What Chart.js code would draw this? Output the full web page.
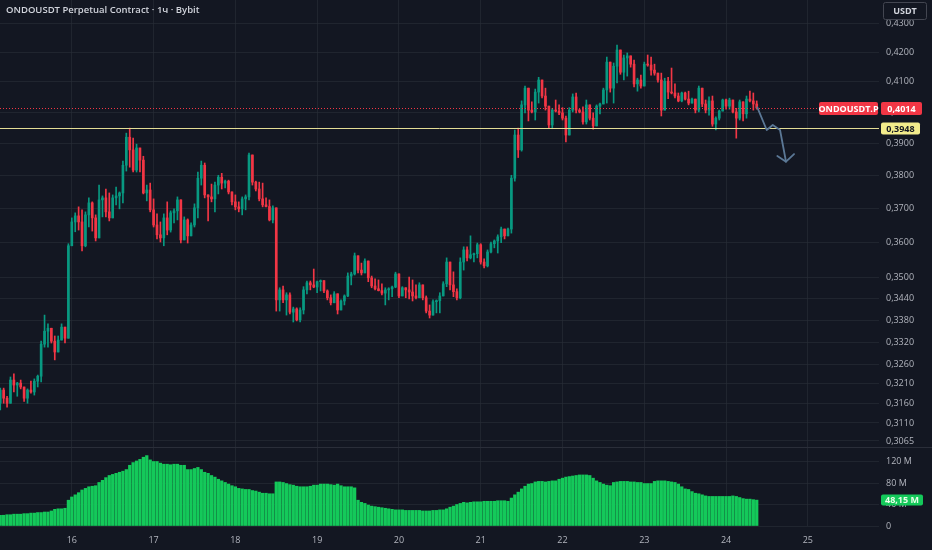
<!DOCTYPE html>
<html><head><meta charset="utf-8">
<script src="https://cdn.jsdelivr.net/npm/chart.js@4.4.1/dist/chart.umd.min.js"></script>
<style>
html,body{margin:0;padding:0;background:#131722;}
#wrap{position:relative;width:932px;height:550px;overflow:hidden;}
canvas{display:block;}
#hdr{position:absolute;left:6px;top:3px;font:600 9.5px "Open Sans";color:#d1d4dc;white-space:nowrap;}
</style></head><body>
<div id="wrap"><canvas id="c" width="932" height="550"></canvas><div id="hdr">ONDOUSDT Perpetual Contract · 1ч · Bybit</div></div>
<script>
// ---- data ----
const firstDay = 15, firstHour = 3;   // first candle: 15th, 03:00, then hourly
const openFirst = 0.3160;
const closes = [
.3194,.3173,.3160,.3220,.3207,.3212,.3202,.3173,.3194,.3189,
.3217,.3230,.3315,.3350,.3358,.3323,.3294,.3326,.3361,.3331,
.3590,.3660,.3678,.3660,.3590,.3681,.3717,.3672,.3613,.3726,
.3732,.3690,.3672,.3732,.3738,.3747,.3832,.3920,.3880,.3817,
.3886,.3848,.3747,.3756,.3696,.3651,.3622,.3613,.3672,.3636,
.3687,.3693,.3726,.3607,.3666,.3619,.3651,.3702,.3792,.3832,
.3741,.3735,.3729,.3771,.3795,.3777,.3783,.3750,.3720,.3705,
.3699,.3729,.3735,.3864,.3780,.3759,.3729,.3711,.3706,.3666,
.3702,.3436,.3464,.3436,.3450,.3402,.3411,.3381,.3408,.3464,
.3484,.3478,.3472,.3487,.3490,.3461,.3442,.3428,.3453,.3408,
.3433,.3447,.3503,.3509,.3561,.3520,.3512,.3546,.3498,.3475,
.3467,.3462,.3455,.3464,.3467,.3472,.3509,.3447,.3470,.3464,
.3458,.3447,.3442,.3478,.3442,.3405,.3394,.3431,.3434,.3447,
.3481,.3543,.3478,.3459,.3442,.3543,.3578,.3555,.3564,.3567,
.3593,.3543,.3532,.3572,.3596,.3604,.3616,.3639,.3619,.3639,
.3792,.3927,.3880,.4024,.4079,.4007,.4001,.4066,.4106,.4053,
.4020,.3959,.4007,.4004,.3998,.3981,.3927,.4007,.4050,.4007,
.4001,.3969,.4024,.3981,.3956,.4020,.4027,.4073,.4166,.4079,
.4152,.4207,.4132,.4180,.4187,.4159,.4093,.4106,.4086,.4159,
.4156,.4139,.4129,.4106,.4007,.4102,.4066,.4063,.4053,.4037,
.4063,.4043,.4030,.4043,.4007,.4079,.4027,.4007,.4037,.3962,
.3981,.4004,.4040,.4020,.4040,.4001,.3981,.4034,.3995,.4043,
.4037,.4027,.4014];
const highs = [
.3199,.3199,.3178,.3228,.3236,.3214,.3220,.3202,.3197,.3217,
.3223,.3233,.3323,.3394,.3370,.3350,.3337,.3337,.3370,.3359,
.3596,.3672,.3687,.3705,.3696,.3690,.3732,.3720,.3681,.3771,
.3738,.3759,.3747,.3741,.3765,.3750,.3845,.3933,.3949,.3917,
.3898,.3883,.3860,.3771,.3777,.3729,.3684,.3660,.3684,.3720,
.3693,.3699,.3735,.3708,.3675,.3669,.3657,.3714,.3811,.3845,
.3839,.3741,.3774,.3780,.3801,.3807,.3786,.3786,.3750,.3741,
.3720,.3735,.3741,.3870,.3829,.3783,.3780,.3777,.3732,.3726,
.3708,.3684,.3470,.3475,.3456,.3456,.3416,.3414,.3414,.3473,
.3489,.3489,.3523,.3489,.3492,.3478,.3464,.3450,.3459,.3445,
.3436,.3450,.3512,.3514,.3569,.3558,.3540,.3552,.3526,.3503,
.3495,.3492,.3481,.3470,.3470,.3475,.3514,.3478,.3473,.3470,
.3500,.3492,.3478,.3484,.3473,.3447,.3422,.3436,.3436,.3456,
.3487,.3555,.3535,.3515,.3467,.3555,.3587,.3587,.3619,.3569,
.3598,.3596,.3552,.3578,.3601,.3607,.3622,.3645,.3636,.3642,
.3801,.3943,.3949,.4037,.4086,.4050,.4034,.4076,.4115,.4095,
.4079,.4013,.4013,.4040,.4024,.4015,.3988,.4015,.4060,.4063,
.4010,.4018,.4040,.4007,.3998,.4024,.4030,.4079,.4183,.4149,
.4163,.4224,.4197,.4190,.4197,.4183,.4173,.4112,.4122,.4166,
.4190,.4183,.4159,.4129,.4129,.4112,.4115,.4146,.4093,.4063,
.4066,.4066,.4069,.4046,.4043,.4086,.4076,.4040,.4050,.4053,
.3985,.4007,.4043,.4043,.4046,.4030,.4013,.4040,.4018,.4053,
.4069,.4063,.4037];
const lows = [
.3143,.3160,.3150,.3173,.3189,.3178,.3197,.3165,.3160,.3186,
.3181,.3202,.3215,.3307,.3307,.3318,.3273,.3296,.3326,.3318,
.3334,.3596,.3631,.3636,.3575,.3587,.3645,.3633,.3604,.3633,
.3675,.3675,.3663,.3675,.3711,.3699,.3717,.3814,.3826,.3811,
.3811,.3811,.3744,.3723,.3690,.3645,.3610,.3601,.3590,.3622,
.3630,.3657,.3666,.3598,.3613,.3598,.3622,.3645,.3672,.3771,
.3732,.3663,.3720,.3690,.3744,.3759,.3762,.3744,.3711,.3696,
.3690,.3681,.3696,.3726,.3771,.3753,.3723,.3705,.3705,.3663,
.3657,.3405,.3405,.3428,.3394,.3397,.3375,.3378,.3375,.3397,
.3453,.3464,.3470,.3456,.3461,.3456,.3436,.3422,.3431,.3397,
.3411,.3422,.3445,.3478,.3506,.3512,.3506,.3512,.3487,.3470,
.3464,.3461,.3450,.3422,.3436,.3445,.3470,.3442,.3450,.3442,
.3439,.3433,.3439,.3456,.3436,.3400,.3386,.3403,.3400,.3400,
.3450,.3473,.3464,.3445,.3436,.3439,.3520,.3546,.3552,.3543,
.3555,.3537,.3526,.3529,.3569,.3584,.3569,.3599,.3610,.3627,
.3627,.3783,.3856,.3876,.3998,.3972,.3998,.3975,.4030,.4047,
.4007,.3947,.3947,.4001,.3992,.3975,.3905,.3960,.4001,.3998,
.3998,.3962,.3962,.3975,.3946,.3959,.3995,.4027,.4030,.4066,
.4030,.4096,.4125,.4106,.4119,.4149,.4083,.4069,.4079,.4122,
.4152,.4122,.4122,.4099,.3988,.4047,.4044,.4060,.4047,.4034,
.4034,.4040,.4024,.4030,.3998,.4001,.4018,.3998,.3991,.3955,
.3943,.3975,.4004,.4010,.4010,.3998,.3917,.3975,.3972,.3981,
.4034,.4007,.4010];
const volumesM = [
20,20,21,21,22,22,22,23,23,
24,24,25,25,26,26,28,31,32,32,33,
48,
54,58,62,67,70,73,74,75,
81,85,90,94,96,98,100,102,105,
113,118,121,124,128,131,
123,120,120,117,115,115,114,115,115,113,113,
105,105,107,109,105,
100,98,94,91,87,84,81,78,
75,73,70,69,68,68,66,65,63,61,61,60,60,
82,
82,81,79,77,76,74,73,73,73,74,76,76,78,78,78,77,76,78,75,73,73,73,71,
48,
44,42,39,37,36,35,34,33,32,31,
30,30,30,29,29,29,29,29,28,28,28,29,29,30,30,
32,35,37,40,42,44,
43,44,45,45,45,46,46,46,46,47,47,47,46,
52,58,63,69,74,78,
79,82,83,83,82,83,84,84,
87,89,91,92,93,94,95,95,95,
94,89,84,81,78,76,
75,81,82,83,83,83,82,82,81,81,79,79,79,
83,84,84,84,83,82,81,
78,73,69,68,64,61,60,
58,56,55,55,55,55,55,55,55,56,
55,53,51,50,50,49,48.15];
const priceTicks = [0.43,0.42,0.41,0.40,0.39,0.38,0.37,0.36,0.35,0.344,0.338,0.332,0.326,0.321,0.316,0.311,0.3065];
const volTicksM = [0,40,80,120];
const dayTicks = [16,17,18,19,20,21,22,23,24,25];
const lastPrice = 0.4014, levelPrice = 0.3948, lastVolumeM = 48.15;
const symbolLabel = 'ONDOUSDT.P', currencyLabel = 'USDT';
const arrowPath = [[24.382,0.4016],[24.497,0.3943],[24.571,0.3959],[24.660,0.3943],[24.733,0.3843]];
const arrowHead = [[24.627,0.3861],[24.733,0.3843],[24.831,0.3867]];

// ---- build ----
const UP = '#089981', DOWN = '#f23645', VOLC = '#14c95a';
const GRID = 'rgba(42,46,57,0.6)', TXT = '#b2b5be';
const FONT = {family:'"Open Sans"', size:9};
const opens = closes.map((c,i)=> i===0 ? openFirst : closes[i-1]);
const xs = closes.map((_,i)=> firstDay + (firstHour+i)/24);
const colors = closes.map((c,i)=> c>=opens[i] ? UP : DOWN);
const wick = closes.map((c,i)=>({x:xs[i], y:[Math.min(lows[i],opens[i],c), Math.max(highs[i],opens[i],c)]}));
const body = closes.map((c,i)=>({x:xs[i], y:[opens[i], c]}));
const vol = volumesM.map((v,i)=>({x:xs[i], y:v*1e6}));
const fmtP = v => v.toFixed(4).replace('.',',');
const noPad = s => { s.paddingTop = 0; s.paddingBottom = 0; };

function box(ctx,x,y,w,h,fill,text,tc,stroke){
  ctx.save();
  ctx.beginPath();
  if(ctx.roundRect) ctx.roundRect(x,y,w,h,2); else ctx.rect(x,y,w,h);
  if(fill){ctx.fillStyle=fill;ctx.fill();}
  if(stroke){ctx.strokeStyle=stroke;ctx.lineWidth=1;ctx.stroke();}
  ctx.fillStyle=tc; ctx.font='bold 9px "Open Sans"'; ctx.textAlign='center'; ctx.textBaseline='middle';
  ctx.fillText(text,x+w/2,y+h/2+0.5);
  ctx.restore();
}

const overlay = {
  id:'overlay',
  beforeDraw(chart){
    const c=chart.ctx; c.save(); c.fillStyle='#131722'; c.fillRect(0,0,chart.width,chart.height); c.restore();
  },
  afterDraw(chart){
    const c=chart.ctx, a=chart.chartArea, sx=chart.scales.x, sy=chart.scales.y, sv=chart.scales.yv;
    c.save();
    c.strokeStyle='#2a2e39'; c.lineWidth=1;
    c.beginPath(); c.moveTo(0,Math.round(sv.top)+0.5); c.lineTo(chart.width,Math.round(sv.top)+0.5); c.stroke();
    const yl=Math.round(sy.getPixelForValue(levelPrice))+0.5;
    c.strokeStyle='#e3dc95'; c.lineWidth=1;
    c.beginPath(); c.moveTo(a.left,yl); c.lineTo(a.right,yl); c.stroke();
    const yp=Math.round(sy.getPixelForValue(lastPrice))+0.5;
    c.strokeStyle=DOWN; c.setLineDash([1,2]);
    c.beginPath(); c.moveTo(a.left,yp); c.lineTo(a.right,yp); c.stroke();
    c.setLineDash([]);
    c.strokeStyle='#5b7896'; c.lineWidth=1.8; c.lineJoin='round'; c.lineCap='round';
    c.beginPath();
    arrowPath.forEach((p,i)=>{const X=sx.getPixelForValue(p[0]),Y=sy.getPixelForValue(p[1]); i?c.lineTo(X,Y):c.moveTo(X,Y);});
    c.stroke();
    c.beginPath();
    arrowHead.forEach((p,i)=>{const X=sx.getPixelForValue(p[0]),Y=sy.getPixelForValue(p[1]); i?c.lineTo(X,Y):c.moveTo(X,Y);});
    c.stroke();
    c.restore();
    const bx=a.right+2;
    box(c,a.right-60,yp-6.5,59,13,DOWN,symbolLabel,'#ffffff');
    box(c,bx,yp-6.5,41,13,DOWN,fmtP(lastPrice),'#ffffff');
    box(c,bx,yl-6,39,12,'#f3ec8c',fmtP(levelPrice),'#131722');
    const yvv=sv.getPixelForValue(lastVolumeM*1e6);
    box(c,bx,yvv-5.5,42,11,VOLC,lastVolumeM.toFixed(2).replace('.',',')+' M','#eaffea');
    box(c,883.5,2.5,43,17,'#131722',currencyLabel,'#d1d4dc','#434651');
  }
};

new Chart(document.getElementById('c'),{
  type:'bar',
  data:{datasets:[
    {data:wick, yAxisID:'y', backgroundColor:colors, barThickness:1, grouped:false, order:2},
    {data:body, yAxisID:'y', backgroundColor:colors, barThickness:2, grouped:false, minBarLength:1, order:1},
    {data:vol, yAxisID:'yv', backgroundColor:VOLC, barThickness:2.6, grouped:false, order:3}
  ]},
  options:{
    responsive:false, animation:false, devicePixelRatio:1,
    layout:{padding:0},
    plugins:{legend:{display:false}, tooltip:{enabled:false}},
    scales:{
      x:{type:'linear', min:15.122, max:25.870, offset:false, position:'bottom',
        grid:{offset:false, color:GRID, drawTicks:false}, border:{display:false},
        ticks:{color:TXT, font:FONT, padding:9, autoSkip:false, maxRotation:0, callback:v=>String(v)},
        afterBuildTicks:s=>{s.ticks=dayTicks.map(v=>({value:v}));},
        afterFit:s=>{s.height=24; s.paddingLeft=0; s.paddingRight=0;}},
      y:{type:'logarithmic', position:'right', stack:'p', stackWeight:447, min:0.3050, max:0.43809,
        grid:{color:GRID, drawTicks:false}, border:{display:false},
        ticks:{color:TXT, font:FONT, padding:7, autoSkip:false, callback:v=>fmtP(v)},
        afterBuildTicks:s=>{s.ticks=priceTicks.map(v=>({value:v}));},
        afterFit:s=>{s.width=53; noPad(s);}},
      yv:{type:'linear', position:'right', stack:'p', stackWeight:79, min:0, max:147e6,
        grid:{color:GRID, drawTicks:false}, border:{display:false},
        ticks:{color:TXT, font:FONT, padding:7, autoSkip:false, callback:v=> v===0?'0':(v/1e6)+' M'},
        afterBuildTicks:s=>{s.ticks=volTicksM.map(v=>({value:v*1e6}));},
        afterFit:s=>{s.width=53; noPad(s);}}
    }
  },
  plugins:[overlay]
});
</script>
</body></html>
